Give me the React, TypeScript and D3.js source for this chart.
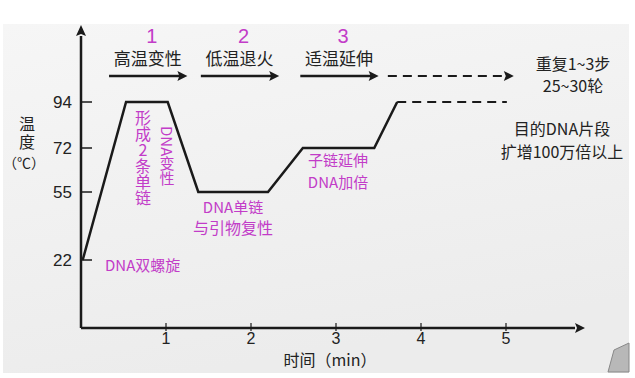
import React from "react";
import * as d3 from "d3";

const stepNumbers = ["1", "2", "3"];
const stepLabels = ["高温变性", "低温退火", "适温延伸"];
const yTicks = [22, 55, 72, 94];
const xTicks = [1, 2, 3, 4, 5];
const curveTime = [0.02, 0.53, 1.02, 1.38, 2.2, 2.61, 3.45, 3.72];
const curveTemp = [22, 94, 94, 55, 55, 72, 72, 94];
const dashTime = [3.72, 5.01];
const dashTemp = [94, 94];
const arrowStart = [0.33, 1.41, 2.58];
const arrowEnd = [1.24, 2.32, 3.49];

const W = 635;
const H = 378;
const MAG = "#c23cc8";
const INK = "#1a1a1a";
const FONT = "'Noto Sans CJK SC', 'Liberation Sans', sans-serif";

export default function App() {
  const x = d3.scaleLinear().domain([0, 5]).range([81, 506]);
  const y = d3.scaleLinear().domain([22, 55, 72, 94]).range([260, 192, 148, 102]);
  const pts: [number, number][] = curveTime.map((t, i) => [x(t), y(curveTemp[i])]);
  const line = d3.line();
  const dashPts: [number, number][] = dashTime.map((t, i) => [x(t), y(dashTemp[i])]);
  const arrowY = 76;
  const axisY = 328;
  const arrowHead = (ex: number, ey: number) =>
    `M${ex},${ey} L${ex - 10},${ey - 5} L${ex - 8},${ey} L${ex - 10},${ey + 5} Z`;

  return (
    <svg width={W} height={H} style={{ position: "fixed", left: 0, top: 0 }} fontFamily={FONT}>
      <defs>
        <linearGradient id="bg" x1="0" y1="0" x2="0.3" y2="1">
          <stop offset="0" stopColor="#f6f6f6" />
          <stop offset="1" stopColor="#ececec" />
        </linearGradient>
      </defs>
      <rect width={W} height={H} fill="#ffffff" />
      <rect x={3} y={24} width={626} height={349} fill="url(#bg)" />
      <path d="M614,350 L629,343 L629,372 L608,372 Z" fill="#b8b8b8" stroke="#888" strokeWidth={1} />

      {/* axes */}
      <line x1={81} y1={axisY} x2={575} y2={axisY} stroke={INK} strokeWidth={2.5} />
      <path d={arrowHead(585, axisY)} fill={INK} />
      <line x1={81} y1={axisY} x2={81} y2={36} stroke={INK} strokeWidth={2.5} />
      <path d={`M81,25 L76,36 L81,34 L86,36 Z`} fill={INK} />

      {yTicks.map((v) => (
        <g key={v}>
          <line x1={81} x2={92} y1={y(v)} y2={y(v)} stroke={INK} strokeWidth={1.5} />
          <text x={72} y={y(v) + 6} textAnchor="end" fontSize={17} fill="#222" fontFamily="'Liberation Sans', sans-serif">
            {v}
          </text>
        </g>
      ))}
      {xTicks.map((v) => (
        <g key={v}>
          <line x1={x(v)} x2={x(v)} y1={axisY - 5} y2={axisY + 3} stroke={INK} strokeWidth={1.2} />
          <text x={x(v)} y={axisY + 16} textAnchor="middle" fontSize={16} fill="#222" fontFamily="'Liberation Sans', sans-serif">
            {v}
          </text>
        </g>
      ))}

      <text x={27} y={116} fontSize={16} fill="#222" letterSpacing={2} style={{ writingMode: "vertical-rl" } as any}>温度</text>
      <text x={24} y={168} textAnchor="middle" fontSize={14} fill="#222">（℃）</text>
      <text x={330} y={366} textAnchor="middle" fontSize={16} fill="#222">时间（min）</text>

      {/* curve */}
      <path d={line(pts) || ""} fill="none" stroke={INK} strokeWidth={2.5} strokeLinejoin="miter" />
      <path d={line(dashPts) || ""} fill="none" stroke={INK} strokeWidth={2} strokeDasharray="9,6" />

      {/* step arrows */}
      {stepLabels.map((lab, i) => {
        const x0 = x(arrowStart[i]);
        const x1 = x(arrowEnd[i]);
        const cx = (x0 + x1) / 2;
        return (
          <g key={lab}>
            <text x={cx + 4} y={43} textAnchor="middle" fontSize={20} fill={MAG} fontFamily="'Liberation Sans', sans-serif">
              {stepNumbers[i]}
            </text>
            <text x={cx} y={65} textAnchor="middle" fontSize={17} fill="#222">{lab}</text>
            <line x1={x0} x2={x1 - 6} y1={arrowY} y2={arrowY} stroke={INK} strokeWidth={2.5} />
            <path d={arrowHead(x1 + 1, arrowY)} fill={INK} />
          </g>
        );
      })}
      <line x1={x(3.61)} x2={x(5.08) - 6} y1={arrowY} y2={arrowY} stroke={INK} strokeWidth={2.2} strokeDasharray="9,6" />
      <path d={arrowHead(x(5.08) + 1, arrowY)} fill={INK} />

      {/* right notes */}
      <text x={573} y={70} textAnchor="middle" fontSize={16} fill="#222">重复1~3步</text>
      <text x={573} y={92} textAnchor="middle" fontSize={16} fill="#222">25~30轮</text>
      <text x={562} y={135} textAnchor="middle" fontSize={16} fill="#222">目的DNA片段</text>
      <text x={562} y={158} textAnchor="middle" fontSize={16} fill="#222">扩增100万倍以上</text>

      {/* magenta notes */}
      <text x={143} y={110} fontSize={16} fill={MAG} style={{ writingMode: "vertical-rl", textOrientation: "upright" } as any}>
        形成2条单链
      </text>
      <text x={167} y={126} fontSize={15} fill={MAG} style={{ writingMode: "vertical-rl" } as any}>
        DNA变性
      </text>
      <text x={233} y={213} textAnchor="middle" fontSize={15} fill={MAG}>DNA单链</text>
      <text x={233} y={234} textAnchor="middle" fontSize={16} fill={MAG}>与引物复性</text>
      <text x={105} y={271} fontSize={15} fill={MAG}>DNA双螺旋</text>
      <text x={338} y={166} textAnchor="middle" fontSize={15} fill={MAG}>子链延伸</text>
      <text x={338} y={188} textAnchor="middle" fontSize={15} fill={MAG}>DNA加倍</text>
    </svg>
  );
}
